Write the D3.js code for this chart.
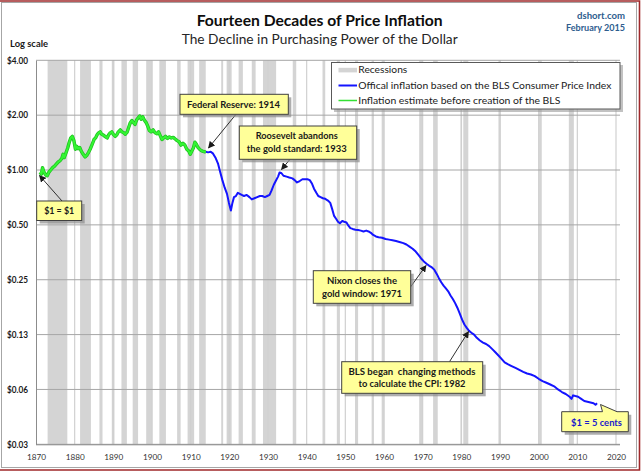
<!DOCTYPE html>
<html><head><meta charset="utf-8">
<script src="https://cdn.jsdelivr.net/npm/d3@7"></script>
<style>html,body{margin:0;padding:0;background:#fff;}svg{display:block;font-family:Lato,"Open Sans",sans-serif;}text{white-space:pre;}</style>
</head><body>
<svg id="chart" width="642" height="474"></svg>
<script>
// ---------- DATA ----------
const yTickValues = [4, 2, 1, 0.5, 0.25, 0.125, 0.0625, 0.03125];
const yTickLabels = ["$4.00", "$2.00", "$1.00", "$0.50", "$0.25", "$0.13", "$0.06", "$0.03"];
const xTickYears = [1870, 1880, 1890, 1900, 1910, 1920, 1930, 1940, 1950, 1960, 1970, 1980, 1990, 2000, 2010, 2020];

// recession bands as drawn in the picture [start, end]
const recessions = [
  [1873.0,1878.1],[1881.4,1884.2],[1886.4,1887.2],[1889.6,1890.3],[1892.1,1893.5],
  [1895.0,1896.4],[1898.5,1900.1],[1901.9,1903.6],[1906.5,1907.4],[1909.2,1910.9],
  [1912.2,1913.9],[1917.9,1918.4],[1919.3,1920.6],[1922.4,1923.5],[1925.8,1926.8],
  [1928.7,1932.1],[1936.4,1937.3],[1944.1,1944.8],[1947.8,1948.6],[1952.5,1953.3],
  [1956.8,1957.4],[1959.4,1960.1],[1969.1,1970.0],[1972.7,1973.9],[1979.8,1980.2],
  [1980.5,1981.8],[1989.6,1990.2],[2000.1,2000.8],[2007.8,2009.1]
];

// purchasing power of $1 (1870 dollars), estimate before the BLS
const greenSeries = [
  [1871.0,0.97],[1871.4,0.95],[1871.7,1.03],[1872.0,0.98],[1872.5,0.94],[1872.9,0.93],
  [1873.3,0.97],[1873.8,1.00],[1874.3,1.03],[1874.8,1.05],[1875.3,1.08],[1875.8,1.11],
  [1876.3,1.13],[1876.7,1.16],[1877.0,1.22],[1877.3,1.17],[1877.8,1.25],[1878.2,1.32],
  [1878.6,1.42],[1879.0,1.50],[1879.4,1.53],[1879.8,1.45],[1880.2,1.30],[1880.5,1.35],
  [1880.9,1.31],[1881.3,1.33],[1881.7,1.27],[1882.2,1.22],[1882.7,1.18],[1883.1,1.20],
  [1883.6,1.25],[1884.0,1.30],[1884.5,1.38],[1885.0,1.47],[1885.4,1.50],[1885.8,1.56],
  [1886.2,1.60],[1886.6,1.62],[1887.0,1.57],[1887.5,1.55],[1888.0,1.52],[1888.4,1.50],
  [1888.8,1.56],[1889.2,1.60],[1889.6,1.62],[1890.0,1.57],[1890.5,1.53],[1890.9,1.56],
  [1891.3,1.62],[1891.8,1.66],[1892.2,1.62],[1892.7,1.60],[1893.1,1.57],[1893.6,1.62],
  [1894.0,1.72],[1894.4,1.82],[1894.8,1.87],[1895.2,1.82],[1895.6,1.78],[1896.0,1.88],
  [1896.4,1.93],[1896.8,1.98],[1897.2,1.90],[1897.6,1.96],[1898.0,1.88],[1898.5,1.82],
  [1898.9,1.74],[1899.3,1.65],[1899.8,1.62],[1900.3,1.66],[1900.8,1.60],[1901.3,1.58],
  [1901.7,1.62],[1902.1,1.55],[1902.6,1.47],[1903.0,1.50],[1903.5,1.53],[1904.0,1.49],
  [1904.5,1.52],[1905.0,1.50],[1905.5,1.51],[1906.0,1.48],[1906.5,1.45],[1907.0,1.43],
  [1907.5,1.37],[1908.0,1.40],[1908.5,1.37],[1909.0,1.30],[1909.5,1.27],[1909.9,1.22],
  [1910.3,1.27],[1910.7,1.32],[1911.1,1.42],[1911.5,1.38],[1911.9,1.33],[1912.3,1.30],
  [1912.7,1.28],[1913.0,1.27],[1913.5,1.26],[1913.9,1.26]
];

// official BLS CPI based purchasing power
const blueSeries = [
  [1913.9,1.26],[1914.5,1.25],[1915.2,1.26],[1915.8,1.23],[1916.5,1.16],[1917.1,1.08],
  [1917.6,0.98],[1918.2,0.88],[1918.8,0.80],[1919.4,0.74],[1919.9,0.66],[1920.4,0.60],
  [1920.8,0.66],[1921.2,0.71],[1921.7,0.72],[1922.2,0.75],[1922.7,0.74],[1923.2,0.73],
  [1923.8,0.72],[1924.5,0.73],[1925.2,0.71],[1925.8,0.69],[1926.5,0.70],[1927.2,0.71],
  [1927.9,0.72],[1928.5,0.72],[1929.2,0.71],[1929.8,0.72],[1930.4,0.73],[1930.9,0.77],
  [1931.5,0.83],[1932.0,0.87],[1932.6,0.92],[1933.0,0.97],[1933.5,0.96],[1934.0,0.93],
  [1934.8,0.92],[1935.5,0.91],[1936.3,0.90],[1936.9,0.88],[1937.5,0.855],[1938.2,0.87],
  [1938.9,0.89],[1939.5,0.89],[1940.2,0.89],[1940.8,0.88],[1941.4,0.84],[1941.9,0.79],
  [1942.5,0.75],[1943.0,0.72],[1943.6,0.71],[1944.2,0.70],[1944.8,0.695],[1945.5,0.68],
  [1946.1,0.66],[1946.6,0.61],[1947.1,0.56],[1947.6,0.54],[1948.1,0.52],[1948.6,0.51],
  [1949.2,0.525],[1949.7,0.52],[1950.3,0.515],[1950.8,0.495],[1951.3,0.48],[1951.9,0.475],
  [1952.6,0.47],[1953.3,0.468],[1954.0,0.465],[1954.7,0.46],[1955.4,0.465],[1956.0,0.46],
  [1956.6,0.452],[1957.2,0.44],[1957.9,0.432],[1958.6,0.428],[1959.5,0.425],[1960.4,0.418],
  [1961.3,0.415],[1962.2,0.412],[1963.1,0.408],[1964.0,0.403],[1965.0,0.397],[1965.8,0.39],
  [1966.6,0.38],[1967.4,0.37],[1968.2,0.357],[1968.9,0.342],[1969.6,0.327],[1970.3,0.315],
  [1971.0,0.306],[1971.7,0.298],[1972.4,0.292],[1973.0,0.284],[1973.6,0.27],[1974.2,0.255],
  [1974.8,0.242],[1975.4,0.232],[1976.0,0.224],[1976.6,0.216],[1977.2,0.205],[1977.8,0.196],
  [1978.4,0.186],[1979.0,0.175],[1979.6,0.163],[1980.2,0.151],[1980.8,0.142],[1981.4,0.136],
  [1982.0,0.131],[1982.6,0.128],[1983.3,0.125],[1984.0,0.12],[1984.8,0.116],[1985.6,0.113],
  [1986.4,0.111],[1987.2,0.108],[1988.0,0.104],[1988.8,0.1],[1989.6,0.096],[1990.4,0.092],
  [1991.2,0.088],[1992.0,0.086],[1993.0,0.084],[1994.0,0.082],[1995.0,0.08],[1996.0,0.078],
  [1997.0,0.0765],[1998.0,0.0755],[1999.0,0.074],[2000.0,0.0715],[2001.0,0.0695],[2002.0,0.068],
  [2003.0,0.0665],[2004.0,0.065],[2005.0,0.0625],[2006.0,0.0605],[2007.0,0.059],[2008.0,0.057],
  [2008.5,0.0555],[2008.9,0.058],[2009.5,0.0575],[2010.2,0.057],[2011.0,0.0555],[2011.8,0.054],
  [2012.6,0.0535],[2013.4,0.053],[2014.2,0.0525],[2014.7,0.0515],[2015.1,0.0525]
];

const legendLabels = ["Recessions", "Offical inflation based on the BLS Consumer Price Index", "Inflation estimate before creation of the BLS"];

// ---------- DRAWING ----------
const svg = d3.select("#chart");
const plot = {left: 36, right: 620, top: 60.3, bottom: 444.3};
const x = d3.scaleLinear().domain([1870, 2020]).range([36, 616]);
const y = d3.scaleLog().base(2).domain([0.03125, 4]).range([plot.bottom, plot.top]);

// frame
svg.append("rect").attr("x", 1.5).attr("y", 2.5).attr("width", 635).attr("height", 465)
  .attr("fill", "#fff").attr("stroke", "#a6a6a6").attr("stroke-width", 1);
svg.append("path").attr("d", "M0,1H639.5V470H0").attr("fill", "none").attr("stroke", "#a0282a").attr("stroke-width", 1.6);

const defs = svg.append("defs");
defs.append("marker").attr("id", "arr").attr("viewBox", "0 0 10 10").attr("refX", 9).attr("refY", 5)
  .attr("markerWidth", 7).attr("markerHeight", 7).attr("markerUnits", "userSpaceOnUse").attr("orient", "auto")
  .append("path").attr("d", "M0,0L10,5L0,10z").attr("fill", "#1a1a1a");

// recessions
svg.append("g").selectAll("rect").data(recessions).join("rect")
  .attr("x", d => x(d[0])).attr("width", d => x(d[1]) - x(d[0]))
  .attr("y", plot.top).attr("height", plot.bottom - plot.top)
  .attr("fill", "#d4d4d4");

// vertical decade gridlines
svg.append("g").selectAll("line").data(xTickYears.slice(1)).join("line")
  .attr("x1", d => x(d)).attr("x2", d => x(d)).attr("y1", plot.top).attr("y2", plot.bottom)
  .attr("stroke", "#d0d0d0").attr("stroke-width", 1.2);

// horizontal gridlines
svg.append("g").selectAll("line").data(yTickValues).join("line")
  .attr("x1", plot.left).attr("x2", plot.right).attr("y1", d => y(d)).attr("y2", d => y(d))
  .attr("stroke", "#a6a6a6").attr("stroke-width", 1);

// axes
const yAxis = d3.axisLeft(y).tickValues(yTickValues).tickFormat((d, i) => yTickLabels[i]).tickSize(0).tickPadding(8);
const gy = svg.append("g").attr("transform", `translate(${plot.left},0)`).call(yAxis);
gy.select(".domain").attr("stroke", "#8c8c8c");
gy.selectAll("text").attr("font-family", "Lato").attr("font-weight", "bold").attr("font-size", 8.8).attr("fill", "#1a1a1a")
  .attr("textLength", 21).attr("lengthAdjust", "spacingAndGlyphs");

const xAxis = d3.axisBottom(x).tickValues(xTickYears).tickFormat(d3.format("d")).tickSize(0).tickPadding(10);
const gx = svg.append("g").attr("transform", `translate(0,${plot.bottom})`).call(xAxis);
gx.select(".domain").attr("stroke", "#8c8c8c").attr("d", `M${plot.left},0.5H${plot.right}`);
gx.selectAll("text").attr("font-family", "Lato").attr("font-size", 8.2).attr("fill", "#333")
  .attr("textLength", 19).attr("lengthAdjust", "spacingAndGlyphs");

// lines
const line = d3.line().x(d => x(d[0])).y(d => y(d[1])).curve(d3.curveLinear);
svg.append("path").datum(blueSeries).attr("d", line).attr("fill", "none")
  .attr("stroke", "#1414ff").attr("stroke-width", 2).attr("stroke-linejoin", "round");
svg.append("path").datum(greenSeries).attr("d", line).attr("fill", "none")
  .attr("stroke", "#1fbf1f").attr("stroke-width", 3.4).attr("stroke-linejoin", "round");
svg.append("path").datum(greenSeries).attr("d", line).attr("fill", "none")
  .attr("stroke", "#33f533").attr("stroke-width", 2).attr("stroke-linejoin", "round");

// legend
const lg = svg.append("g");
lg.append("rect").attr("x", 334).attr("y", 65).attr("width", 289).attr("height", 47).attr("fill", "#9a9a9a").attr("opacity", 0.6);
lg.append("rect").attr("x", 331.5).attr("y", 62.5).attr("width", 288.5).attr("height", 46.5).attr("fill", "#fff").attr("stroke", "#595959").attr("stroke-width", 1);
lg.append("rect").attr("x", 338.5).attr("y", 67.8).attr("width", 18.5).attr("height", 4.6).attr("fill", "#d4d4d4");
lg.append("line").attr("x1", 338.5).attr("x2", 357).attr("y1", 85.5).attr("y2", 85.5).attr("stroke", "#1414ff").attr("stroke-width", 2);
lg.append("line").attr("x1", 338.5).attr("x2", 357).attr("y1", 100.5).attr("y2", 100.5).attr("stroke", "#33e033").attr("stroke-width", 1.5);
const legendW = [49, 253, 202];
const legendY = [73.3, 88.6, 103.6];
lg.selectAll("text").data(legendLabels).join("text")
  .attr("x", 358.3).attr("y", (d, i) => legendY[i]).text(d => d)
  .attr("font-family", "Lato").attr("font-size", 9.4).attr("fill", "#1a1a1a")
  .attr("textLength", (d, i) => legendW[i]).attr("lengthAdjust", "spacingAndGlyphs");

// annotations
const notes = [
  {box: [180, 94.3, 108.3, 20], lines: ["Federal Reserve: 1914"], cx: 233.5, base: [107.6], w: [93], arrow: [236, 114.3, 208.5, 148]},
  {box: [239.3, 126, 117.4, 33.3], lines: ["Roosevelt abandons", "the gold standard: 1933"], cx: 296.7, base: [139.2, 151.8], w: [82, 100], arrow: [290, 159.3, 281.5, 169.5]},
  {box: [36.7, 201, 45, 19.5], lines: ["$1 = $1"], cx: 59.2, base: [214.3], w: [30], arrow: [62, 201, 39.5, 175.5]},
  {box: [313.3, 270.7, 97.4, 32.6], lines: ["Nixon closes the", "gold window: 1971"], cx: 362, base: [284.3, 296.9], w: [70, 80], arrow: [410.5, 287, 426, 265.5]},
  {box: [341.7, 361.7, 141, 31.6], lines: ["BLS began  changing methods", "to calculate the CPI: 1982"], cx: 412, base: [374.5, 387], w: [127, 107], arrow: [449.5, 361.7, 468.5, 331.5]}
];
const ag = svg.append("g");
notes.forEach(n => {
  const [bx, by, bw, bh] = n.box;
  ag.append("line").attr("x1", n.arrow[0]).attr("y1", n.arrow[1]).attr("x2", n.arrow[2]).attr("y2", n.arrow[3])
    .attr("stroke", "#1a1a1a").attr("stroke-width", 0.9).attr("marker-end", "url(#arr)");
  ag.append("rect").attr("x", bx + 3).attr("y", by + 3).attr("width", bw).attr("height", bh).attr("fill", "#8c8c8c").attr("opacity", 0.7);
  ag.append("rect").attr("x", bx).attr("y", by).attr("width", bw).attr("height", bh)
    .attr("fill", "#ffff99").attr("stroke", "#404040").attr("stroke-width", 1);
  n.lines.forEach((t, i) => {
    ag.append("text").attr("x", n.cx).attr("y", n.base[i]).attr("text-anchor", "middle").attr("xml:space", "preserve").text(t)
      .attr("font-family", "Lato").attr("font-weight", "bold").attr("font-size", 9).attr("fill", "#1a1a1a")
      .attr("textLength", n.w[i]).attr("lengthAdjust", "spacingAndGlyphs");
  });
});

// callout "$1 = 5 cents"
const callout = "M561.7,411.7H602.5L600.5,404.5L617,411.7H628.3V431.7H561.7Z";
ag.append("path").attr("d", callout).attr("transform", "translate(3,3)").attr("fill", "#8c8c8c").attr("opacity", 0.7);
ag.append("path").attr("d", callout).attr("fill", "#ffff99").attr("stroke", "#404040").attr("stroke-width", 1);
ag.append("text").attr("x", 596.5).attr("y", 425.6).attr("text-anchor", "middle").text("$1 = 5 cents")
  .attr("font-family", "Lato").attr("font-weight", "bold").attr("font-size", 9.4).attr("fill", "#1a1acc")
  .attr("textLength", 51).attr("lengthAdjust", "spacingAndGlyphs");

// titles
svg.append("text").attr("x", 319.7).attr("y", 26).attr("text-anchor", "middle").text("Fourteen Decades of Price Inflation")
  .attr("font-family", "Lato").attr("font-weight", "bold").attr("font-size", 15.5).attr("fill", "#0d0d0d")
  .attr("textLength", 246).attr("lengthAdjust", "spacingAndGlyphs");
svg.append("text").attr("x", 319.7).attr("y", 44.3).attr("text-anchor", "middle").text("The Decline in Purchasing Power of the Dollar")
  .attr("font-family", "Lato").attr("font-size", 14).attr("fill", "#262626")
  .attr("textLength", 276).attr("lengthAdjust", "spacingAndGlyphs");
svg.append("text").attr("x", 10).attr("y", 46.7).text("Log scale")
  .attr("font-family", "Lato").attr("font-weight", "bold").attr("font-size", 8.6).attr("fill", "#1a1a1a")
  .attr("textLength", 38).attr("lengthAdjust", "spacingAndGlyphs");
svg.append("text").attr("x", 625).attr("y", 18.5).attr("text-anchor", "end").text("dshort.com")
  .attr("font-family", "Lato").attr("font-weight", "bold").attr("font-size", 8.9).attr("fill", "#2e5d8e")
  .attr("textLength", 48).attr("lengthAdjust", "spacingAndGlyphs");
svg.append("text").attr("x", 625).attr("y", 31).attr("text-anchor", "end").text("February 2015")
  .attr("font-family", "Lato").attr("font-weight", "bold").attr("font-size", 8.9).attr("fill", "#2e5d8e")
  .attr("textLength", 59).attr("lengthAdjust", "spacingAndGlyphs");
</script>
</body></html>
